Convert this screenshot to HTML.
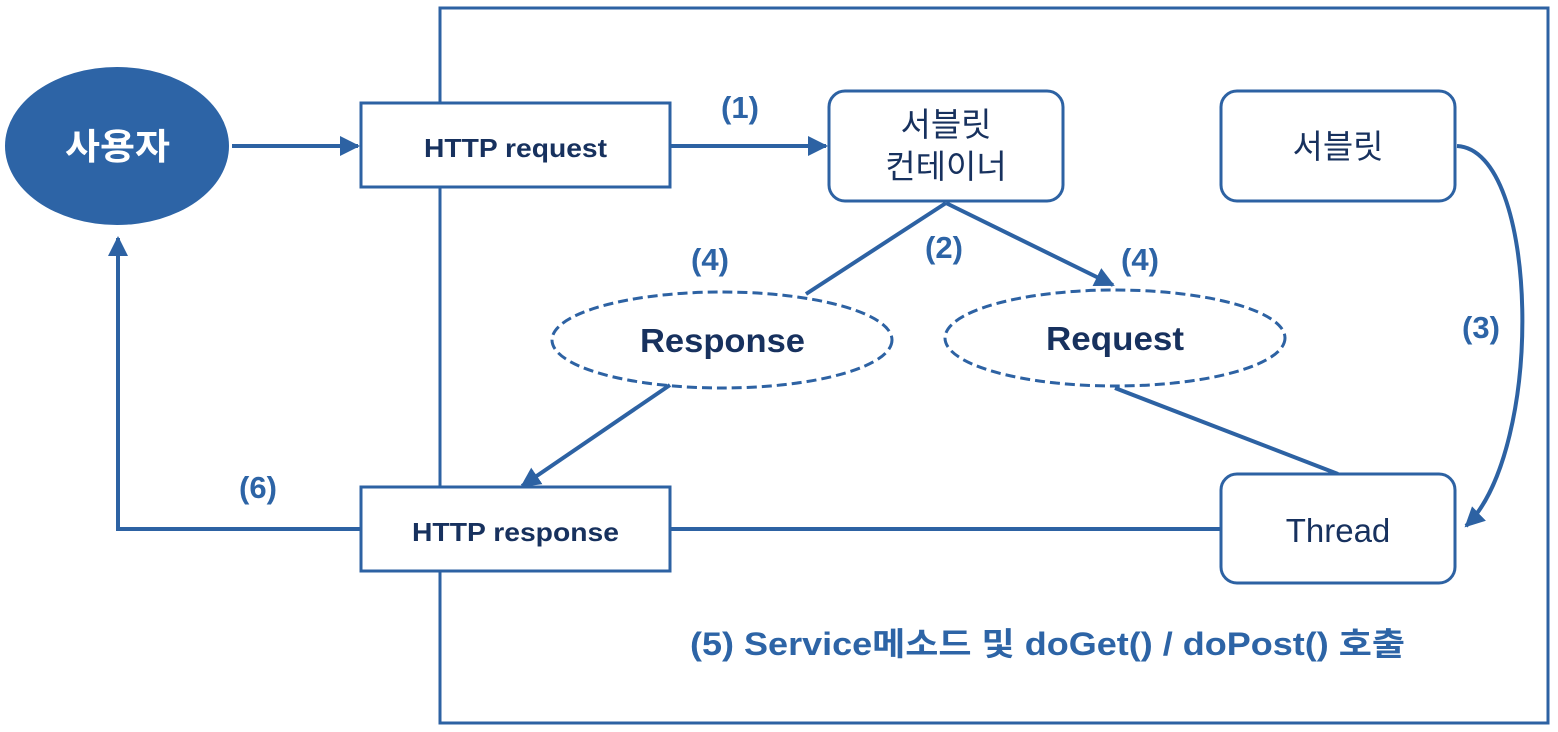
<!DOCTYPE html>
<html><head><meta charset="utf-8"><style>
html,body{margin:0;padding:0;background:#fff;}
svg{display:block;}
text{font-family:"Liberation Sans","Noto Sans CJK KR",sans-serif;}
</style></head><body>
<svg width="1558" height="732" viewBox="0 0 1558 732" xmlns="http://www.w3.org/2000/svg">
<defs>
<marker id="a" viewBox="0 0 10 10" refX="9" refY="5" markerWidth="5" markerHeight="5" markerUnits="strokeWidth" orient="auto"><path d="M0,0L10,5L0,10z" fill="#2d62a3"/></marker>
</defs>
<g stroke="#2d62a3" fill="none">
<rect x="440" y="8" width="1108" height="715" stroke-width="3"/>
<line x1="232" y1="146" x2="358" y2="146" stroke-width="4" marker-end="url(#a)"/>
<line x1="670" y1="146" x2="826" y2="146" stroke-width="4" marker-end="url(#a)"/>
<line x1="946" y1="203" x2="806" y2="294" stroke-width="4"/>
<line x1="946" y1="203" x2="1113" y2="285" stroke-width="4" marker-end="url(#a)"/>
<line x1="1115" y1="388" x2="1338" y2="474" stroke-width="4"/>
<line x1="670" y1="385" x2="522" y2="486" stroke-width="4" marker-end="url(#a)"/>
<line x1="670" y1="529" x2="1221" y2="529" stroke-width="4"/>
<polyline points="361,529 118,529 118,238" stroke-width="4" marker-end="url(#a)"/>
<path d="M1457,146 C1540,150 1545,450 1466,526" stroke-width="4" marker-end="url(#a)"/>
<rect x="361" y="103" width="309" height="84" fill="#fff" stroke-width="3"/>
<rect x="361" y="487" width="309" height="84" fill="#fff" stroke-width="3"/>
<rect x="829" y="91" width="234" height="110" rx="16" fill="#fff" stroke-width="3"/>
<rect x="1221" y="91" width="234" height="110" rx="16" fill="#fff" stroke-width="3"/>
<rect x="1221" y="474" width="234" height="109" rx="16" fill="#fff" stroke-width="3"/>
<ellipse cx="722" cy="340" rx="170" ry="48" stroke-width="3" stroke-dasharray="10,5"/>
<ellipse cx="1115" cy="338" rx="170" ry="48" stroke-width="3" stroke-dasharray="10,5"/>
</g>
<ellipse cx="117" cy="146" rx="112" ry="79" fill="#2d64a6"/>
<text x="65" y="159" textLength="105" lengthAdjust="spacingAndGlyphs" font-size="36" font-weight="bold" fill="#fff">사용자</text>
<g fill="#17315e" font-weight="bold">
<text x="424" y="157" font-size="26" textLength="183" lengthAdjust="spacingAndGlyphs">HTTP request</text>
<text x="412" y="541" font-size="26" textLength="207" lengthAdjust="spacingAndGlyphs">HTTP response</text>
<text x="640" y="352" font-size="33" textLength="165" lengthAdjust="spacingAndGlyphs">Response</text>
<text x="1046" y="350" font-size="33" textLength="138" lengthAdjust="spacingAndGlyphs">Request</text>
</g>
<g fill="#17315e" text-anchor="middle" font-size="33">
<text x="946" y="136">서블릿</text>
<text x="946" y="178">컨테이너</text>
<text x="1338" y="158">서블릿</text>
<text x="1338" y="542">Thread</text>
</g>
<g fill="#2d64a6" font-weight="bold" text-anchor="middle" font-size="31">
<text x="740" y="118">(1)</text>
<text x="944" y="258">(2)</text>
<text x="710" y="270">(4)</text>
<text x="1140" y="270">(4)</text>
<text x="1481" y="338">(3)</text>
<text x="258" y="498">(6)</text>
</g>
<text x="690" y="655" fill="#2d64a6" font-weight="bold" font-size="32" textLength="715" lengthAdjust="spacingAndGlyphs">(5) Service메소드 및 doGet() / doPost() 호출</text>
</svg>
</body></html>
